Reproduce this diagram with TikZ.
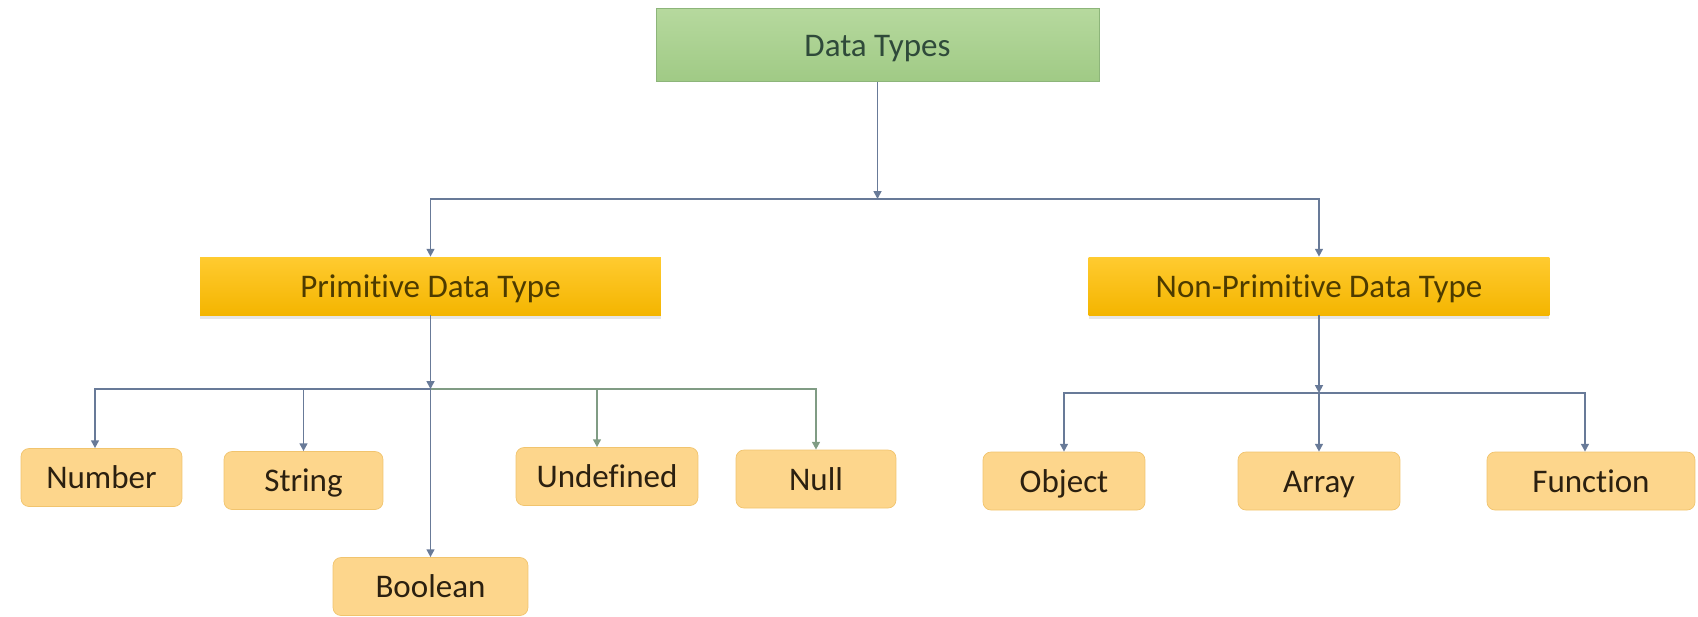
\documentclass[tikz,border=0pt]{standalone}
\usepackage{fontspec}
\setmainfont{Carlito}[Ligatures=NoCommon]
\usepackage{tikz}
\usepackage{xcolor}
\usetikzlibrary{arrows.meta,shadows}

\definecolor{linkblue}{HTML}{687A98}
\definecolor{linkgreen}{HTML}{809C84}
\definecolor{dttop}{HTML}{B6D99E}
\definecolor{dtbottom}{HTML}{A0CA85}
\definecolor{dtborder}{HTML}{8DB57A}
\definecolor{dttext}{HTML}{2F4A3A}
\definecolor{goldtop}{HTML}{FFCB30}
\definecolor{goldbottom}{HTML}{F4B500}
\definecolor{goldtext}{HTML}{4D3B00}
\definecolor{leaffill}{HTML}{FDD68C}
\definecolor{leafborder}{HTML}{F1C46E}
\definecolor{leaftext}{HTML}{2B2010}

\begin{document}
\begin{tikzpicture}[x=0.02cm,y=-0.02cm,
        font=\fontsize{18.8}{22}\selectfont,
        every node/.style={text height=15pt,text depth=2pt},
        link/.style={draw=linkblue,line width=1pt,-{Triangle[width=4.5pt,length=4.5pt]}},
        greenlink/.style={link,draw=linkgreen},
        topbox/.style={draw=dtborder,top color=dttop,bottom color=dtbottom,text=dttext,
            minimum width=8.86cm,minimum height=1.46cm},
        typebox/.style={top color=goldtop,bottom color=goldbottom,text=goldtext,
            minimum width=9.22cm,minimum height=1.16cm,
            drop shadow={opacity=0.2,shadow xshift=0pt,shadow yshift=-2pt}},
        leaf/.style={draw=leafborder,fill=leaffill,text=leaftext,rounded corners=0.16cm,
            minimum height=1.16cm}]
                \useasboundingbox (0,0) rectangle (1698,616);

                \node[topbox] (dt) at (877.5,45) {Data Types};
                \node[typebox] (prim) at (430.5,286) {Primitive Data Type};
                \node[typebox] (nonprim) at (1319,286) {Non-Primitive Data Type};

                \node[leaf,minimum width=3.22cm] (num) at (101.5,477.5) {Number};
                \node[leaf,minimum width=3.18cm] (str) at (303.5,480.5) {String};
                \node[leaf,minimum width=3.9cm] (bool) at (430.5,586.5) {Boolean};
                \node[leaf,minimum width=3.64cm] (und) at (607,476.5) {Undefined};
                \node[leaf,minimum width=3.2cm] (null) at (816,479) {Null};

                \node[leaf,minimum width=3.24cm] (obj) at (1064,481) {Object};
                \node[leaf,minimum width=3.24cm] (arr) at (1319,481) {Array};
                \node[leaf,minimum width=4.16cm] (fun) at (1591,481) {Function};

                \coordinate (top) at (877.5,199);
                \coordinate (pj) at (430.5,389);
                \coordinate (nj) at (1319,393);

                \draw[link] (dt) -- (top);
                \draw[link] (top) -| (prim);
                \draw[link] (top) -| (nonprim);

                \draw[link] (prim) -- (pj);
                \draw[link] (pj) -| ([xshift=-0.13cm]num.north);
                \draw[link] (pj) -| (str);
                \draw[link] (pj) -- (bool);
                \draw[greenlink] (pj) -| ([xshift=-0.2cm]und.north);
                \draw[greenlink] (pj) -| (null);

                \draw[link] (nonprim) -- (nj);
                \draw[link] (nj) -| (obj);
                \draw[link] (nj) -- (arr);
                \draw[link] (nj) -| ([xshift=-0.12cm]fun.north);
            \end{tikzpicture}
\end{document}
